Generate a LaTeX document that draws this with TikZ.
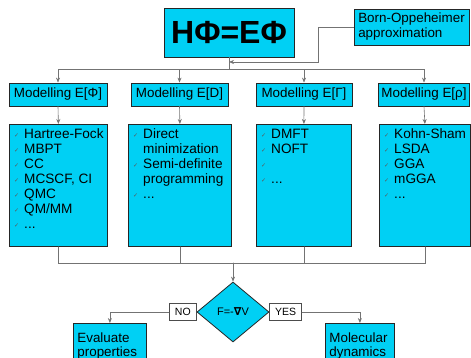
\documentclass[tikz,border=0pt]{standalone}
\usepackage{fontspec}
\setmainfont{Liberation Sans}
\newfontfamily\symfont{DejaVu Sans}
\usetikzlibrary{arrows.meta, positioning, shapes.geometric}
\tikzset{x=1pt,y=-1pt, >={Stealth[length=5pt,width=4pt]}}

% Define: check mark in front of a list entry
\newcommand{\chk}{{\symfont\fontsize{6}{6}\selectfont\color{black!65}\raisebox{1pt}{✓}}}
\newcommand{\mlist}[1]{{\fontsize{13.6}{15}\selectfont
    \begin{tabular}{@{}l@{\hspace{5pt}}l@{}}#1\end{tabular}}}

\begin{document}
\begin{tikzpicture}
% Style
[
    line cap=round,
    box/.style={draw=black!85, fill=cyanbox, line width=0.8pt, inner sep=0pt},
    model box/.style={box, minimum height=23, font=\fontsize{13.4}{15}\selectfont},
    method box/.style={box, anchor=north west},
    result box/.style={box, anchor=north west, minimum height=45, align=left,
        inner xsep=4, inner ysep=1.5, font=\fontsize{13.4}{14.3}\selectfont},
    answer box/.style={draw=black!70, fill=white, line width=0.6pt, inner sep=0pt,
        minimum width=#1, minimum height=17, font=\fontsize{10.5}{12}\selectfont},
    link/.style={draw=black!55, line width=0.6pt}
]

% Define: Colors
\definecolor{cyanbox}{RGB}{0,208,244}

\clip (0,0) rectangle (471,358);

%================================== Top ==================================
{
    % Draw: Equation and approximation
    \node[box, minimum width=130, minimum height=49, font=\bfseries\fontsize{32}{34}\selectfont]
        (hpe) at (229,32.5) {HΦ=EΦ};
    \node[box, minimum width=115, minimum height=36, align=left, font=\fontsize{13.4}{15}\selectfont]
        (bo) at (411.5,27) {Born-Oppeheimer\\approximation};

    % Draw: Modelling boxes
    \node[model box, minimum width=98] (m1) at (58,94.5) {Modelling E[Φ]};
    \node[model box, minimum width=97] (m2) at (179.5,94.5) {Modelling E[D]};
    \node[model box, minimum width=96] (m3) at (304,94.5) {Modelling E[Γ]};
    \node[model box, minimum width=91] (m4) at (424,94.5) {Modelling E[ρ]};

    % Draw: Connectors
    \coordinate (split) at (229,69);
    \coordinate (bo bend) at (318,62);
    \draw[link] (hpe.south) -- (split);
    \draw[link, ->] (bo.west) -| (bo bend) -- (bo bend -| hpe.south);
    \foreach \m in {m1, m2, m3, m4} {
        \draw[link, ->] (split) -| (\m.north);
    }
}

%================================= Methods =================================
{
    \node[method box, minimum width=98, minimum height=122] (l1) at (9,124) {};
    \node[method box, minimum width=103, minimum height=122] (l2) at (128,124) {};
    \node[method box, minimum width=95, minimum height=122] (l3) at (256,124) {};
    \node[method box, minimum width=91, minimum height=122] (l4) at (379,124) {};

    \node[anchor=north west, inner sep=0pt] (t1) at ([shift={(5,4)}]l1.north west)
        {\mlist{\chk & Hartree-Fock\\ \chk & MBPT\\ \chk & CC\\ \chk & MCSCF, CI\\
                \chk & QMC\\ \chk & QM/MM\\ \chk & ...}};
    \node[anchor=north west, inner sep=0pt] (t2) at ([shift={(5,4)}]l2.north west)
        {\mlist{\chk & Direct\\ & minimization\\ \chk & Semi-definite\\ & programming\\ \chk & ...}};
    \node[anchor=north west, inner sep=0pt] (t3) at ([shift={(5,4)}]l3.north west)
        {\mlist{\chk & DMFT\\ \chk & NOFT\\ \chk & \\ \chk & ...}};
    \node[anchor=north west, inner sep=0pt] (t4) at ([shift={(5,4)}]l4.north west)
        {\mlist{\chk & Kohn-Sham\\ \chk & LSDA\\ \chk & GGA\\ \chk & mGGA\\ \chk & ...}};

    \foreach \i in {1,...,4} {
        \draw[link, ->] (m\i.south) -- (l\i.north);
    }
}

%================================= Decision =================================
{
    \node[box, diamond, minimum width=72, minimum height=60, font=\fontsize{11}{12}\selectfont]
        (force) at (233,312) {F=-{\symfont\bfseries ∇}V};
    \node[answer box=27, anchor=east] (no) at (force.west) {NO};
    \node[answer box=32, anchor=west] (yes) at (force.east) {YES};

    \node[result box, minimum width=73, text width=65] (eval) at (73,323) {Evaluate\\properties};
    \node[result box, minimum width=69, text width=61] (md) at (325,323) {Molecular\\dynamics};

    % Draw: Connectors
    \coordinate (merge) at (233,263);
    \foreach \i in {1,...,4} {
        \draw[link] (l\i.south) |- (merge);
    }
    \draw[link, ->] (merge) -- (force.north);
    \draw[link, ->] (no.west) -| (eval.north);
    \draw[link, ->] (yes.east) -| (md.north);
}
%==================================== END ====================================
\end{tikzpicture}
\end{document}
